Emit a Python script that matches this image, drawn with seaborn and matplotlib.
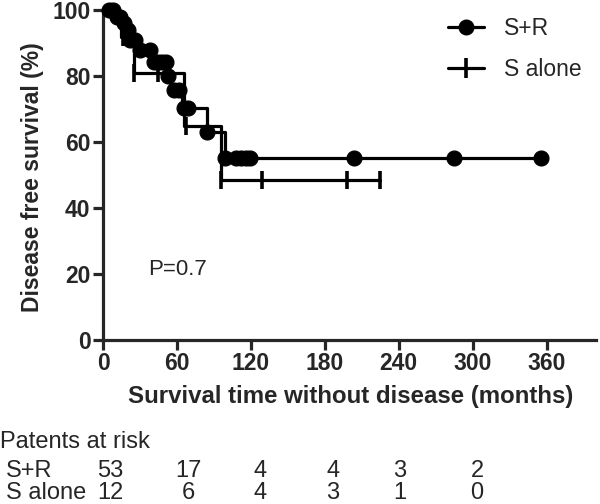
import matplotlib
matplotlib.use("Agg")
import matplotlib.pyplot as plt
import seaborn as sns
import pandas as pd
from matplotlib.lines import Line2D

# Kaplan-Meier steps (months, % disease free)
sr_step_months = [0, 10, 15, 19, 21, 28, 40, 52, 55, 64, 84, 99, 355]
sr_step_surv = [100, 98, 96, 94, 91, 88, 84.3, 80, 75.8, 70.2, 63.1, 55.1, 55.1]
sr_cens_months = [5, 8, 11, 14, 17, 20, 22, 26, 30, 38, 41, 45, 48, 51, 53, 58, 62,
                  66, 69, 84, 99, 108, 112, 116, 119, 204, 285, 355]
sr_cens_surv = [100, 100, 98, 98, 96, 94, 91, 91, 88, 88, 84.3, 84.3, 84.3, 84.3, 80,
                75.8, 75.8, 70.2, 70.2, 63.1, 55.1, 55.1, 55.1, 55.1, 55.1, 55.1, 55.1, 55.1]

sa_step_months = [0, 15, 25, 66, 96, 225]
sa_step_surv = [100, 91.7, 81.0, 64.8, 48.6, 48.6]
sa_cens_months = [16, 25, 45, 67, 96, 129, 198, 225]
sa_cens_surv = [91.7, 81.0, 81.0, 64.8, 48.6, 48.6, 48.6, 48.6]

risk_rows = ["S+R", "S alone"]
risk_sr = [53, 17, 4, 4, 3, 2]
risk_sa = [12, 6, 4, 3, 1, 0]
risk_x_px = [110, 188, 260, 333, 400, 477]

sns.set_style("ticks")
plt.rcParams["font.family"] = ["Liberation Sans", "DejaVu Sans"]

fig = plt.figure(figsize=(6, 5.04), dpi=100)
ax = fig.add_axes([103 / 600, 1 - 340 / 504, (596 - 103) / 600, 330 / 504])

sr_line = pd.DataFrame({"month": sr_step_months, "surv": sr_step_surv})
sa_line = pd.DataFrame({"month": sa_step_months, "surv": sa_step_surv})
sr_pts = pd.DataFrame({"month": sr_cens_months, "surv": sr_cens_surv})
sa_pts = pd.DataFrame({"month": sa_cens_months, "surv": sa_cens_surv})

sns.lineplot(data=sa_line, x="month", y="surv", drawstyle="steps-post", estimator=None,
             sort=False, color="black", lw=2.3, ax=ax)
sns.lineplot(data=sr_line, x="month", y="surv", drawstyle="steps-post", estimator=None,
             sort=False, color="black", lw=2.3, ax=ax)
sns.scatterplot(data=sa_pts, x="month", y="surv", marker="|", s=180, linewidth=2.6,
                color="black", ax=ax, clip_on=False, zorder=4)
sns.scatterplot(data=sr_pts, x="month", y="surv", marker="o", s=115, edgecolor="black",
                color="black", ax=ax, clip_on=False, zorder=5)

ax.set_xlim(0, 400)
ax.set_ylim(0, 100)
ax.set_xticks([0, 60, 120, 180, 240, 300, 360])
ax.set_yticks([0, 20, 40, 60, 80, 100])
sns.despine(ax=ax)
for s in ["left", "bottom"]:
    ax.spines[s].set_linewidth(2.3)
ax.tick_params(axis="both", length=7, width=2.3, labelsize=16.5, pad=2)
for lab in ax.get_xticklabels() + ax.get_yticklabels():
    lab.set_fontweight("bold")

ax.set_xlabel("Survival time without disease (months)", fontsize=17.3, fontweight="bold")
ax.xaxis.set_label_coords((351 - 103) / 493, (340 - 397) / 330)
ax.xaxis.label.set_va("center")
ax.set_ylabel("Disease free survival (%)", fontsize=16.5, fontweight="bold")
ax.yaxis.set_label_coords((33 - 103) / 493, (340 - 177) / 330)
ax.yaxis.label.set_va("center")

ax.text(37, 21.5, "P=0.7", fontsize=16, va="center")

handles = [Line2D([], [], color="black", lw=2.3, marker="o", markersize=10.5),
           Line2D([], [], color="black", lw=2.3, marker="|", markersize=14, mew=2.6)]
fig.legend(handles, ["S+R", "S alone"], loc="upper left", bbox_to_anchor=(427 / 600, 1 + 4 / 504),
           frameon=False, fontsize=16.5, handlelength=1.6, handletextpad=0.85, labelspacing=0.8)

fig.text(0 / 600, 1 - 442 / 504, "Patents at risk", fontsize=17, va="center")
for row, vals, yy in [(risk_rows[0], risk_sr, 471), (risk_rows[1], risk_sa, 493)]:
    fig.text(6 / 600, 1 - yy / 504, row, fontsize=17, va="center")
    for v, xx in zip(vals, risk_x_px):
        fig.text(xx / 600, 1 - yy / 504, str(v), fontsize=17, va="center", ha="center")

fig.savefig("out.png", dpi=100)
